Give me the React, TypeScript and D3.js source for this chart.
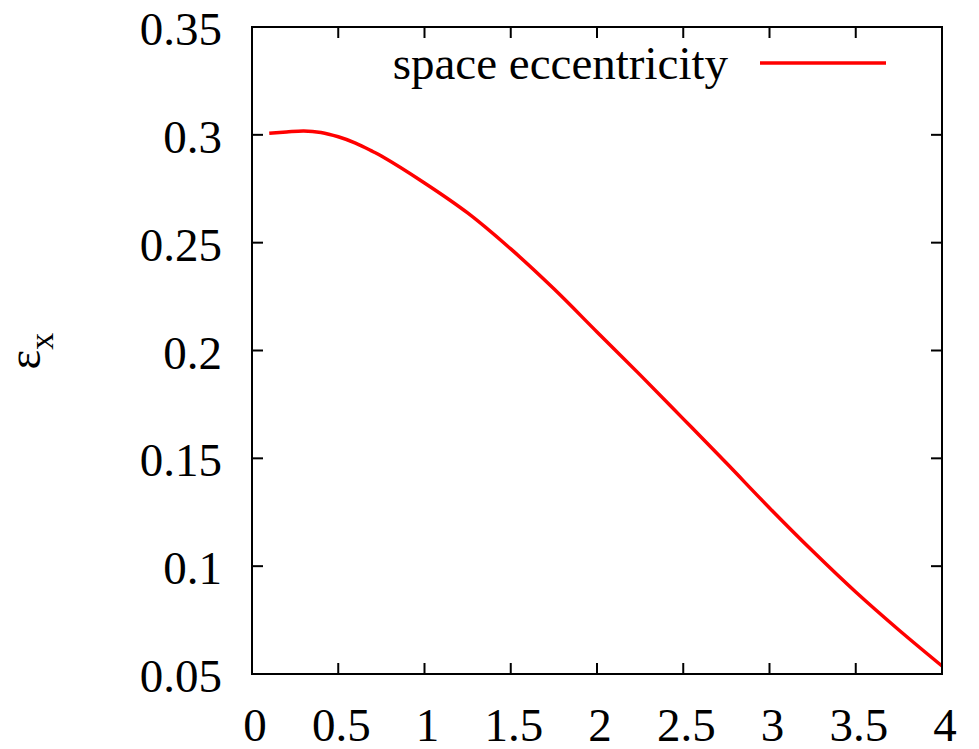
import React, { useEffect, useRef } from "react";
import * as d3 from "d3";

const xValues = [0.1, 0.2, 0.3, 0.4, 0.5, 0.6, 0.7, 0.75, 1.0, 1.25, 1.5, 1.75, 2.0, 2.25, 2.5, 2.75, 3.0, 3.25, 3.5, 3.75, 4.0];
const eccValues = [0.3007, 0.3013, 0.3018, 0.3011, 0.2991, 0.2962, 0.2923, 0.2902, 0.2777, 0.2638, 0.2471, 0.2286, 0.2086, 0.1887, 0.1683, 0.1478, 0.127, 0.107, 0.088, 0.0704, 0.0537];
const xTicks = [0, 0.5, 1, 1.5, 2, 2.5, 3, 3.5, 4];
const yTicks = [0.05, 0.1, 0.15, 0.2, 0.25, 0.3, 0.35];
const seriesName = "space eccentricity";

const W = 979, H = 749;
const L = 252, R = 942, T = 27, B = 674;
const FONT = "'Liberation Serif', 'Times New Roman', serif";

export default function App() {
  const ref = useRef<SVGSVGElement>(null);
  useEffect(() => {
    const svg = d3.select(ref.current);
    svg.selectAll("*").remove();
    const x = d3.scaleLinear().domain([0, 4]).range([L, R]);
    const y = d3.scaleLinear().domain([0.05, 0.35]).range([B, T]);
    const tl = 11;
    const g = svg.append("g");

    // ticks (mirrored on all sides, inward)
    xTicks.forEach((t) => {
      if (t > 0 && t < 4) {
        g.append("line").attr("x1", x(t)).attr("x2", x(t)).attr("y1", B).attr("y2", B - tl).attr("stroke", "#000").attr("stroke-width", 2);
        g.append("line").attr("x1", x(t)).attr("x2", x(t)).attr("y1", T).attr("y2", T + tl).attr("stroke", "#000").attr("stroke-width", 2);
      }
      g.append("text").attr("x", x(t) + 3).attr("y", 741).attr("text-anchor", "middle")
        .attr("font-family", FONT).attr("font-size", 47).attr("fill", "#000").text(String(t));
    });
    yTicks.forEach((t) => {
      if (t > 0.05 && t < 0.35) {
        g.append("line").attr("x1", L).attr("x2", L + tl).attr("y1", y(t)).attr("y2", y(t)).attr("stroke", "#000").attr("stroke-width", 2);
        g.append("line").attr("x1", R).attr("x2", R - tl).attr("y1", y(t)).attr("y2", y(t)).attr("stroke", "#000").attr("stroke-width", 2);
      }
      g.append("text").attr("x", 222).attr("y", y(t) + 18).attr("text-anchor", "end")
        .attr("font-family", FONT).attr("font-size", 47).attr("fill", "#000").text(String(t));
    });

    // curve
    const pts: [number, number][] = xValues.map((v, i) => [v, eccValues[i]]);
    const line = d3.line<[number, number]>().x((d) => x(d[0])).y((d) => y(d[1])).curve(d3.curveCatmullRom.alpha(0.5));
    g.append("path").attr("d", line(pts)).attr("fill", "none").attr("stroke", "#ff0000").attr("stroke-width", 3.5);

    // frame
    g.append("rect").attr("x", L).attr("y", T).attr("width", R - L).attr("height", B - T)
      .attr("fill", "none").attr("stroke", "#000").attr("stroke-width", 2);

    // legend
    g.append("text").attr("x", 728).attr("y", 79).attr("text-anchor", "end")
      .attr("font-family", FONT).attr("font-size", 47).attr("fill", "#000").text(seriesName);
    g.append("line").attr("x1", 760).attr("x2", 886).attr("y1", 63).attr("y2", 63)
      .attr("stroke", "#ff0000").attr("stroke-width", 3.5);

    // y label
    const yl = g.append("text").attr("transform", "translate(40,351) rotate(-90)")
      .attr("text-anchor", "middle").attr("font-family", FONT).attr("font-size", 47).attr("fill", "#000");
    yl.append("tspan").text("ε");
    yl.append("tspan").attr("dy", 13).attr("font-size", 34).text("x");
  }, []);
  return (
    <svg ref={ref} width={W} height={H} style={{ position: "absolute", left: 0, top: 0, background: "#fff" }} />
  );
}
